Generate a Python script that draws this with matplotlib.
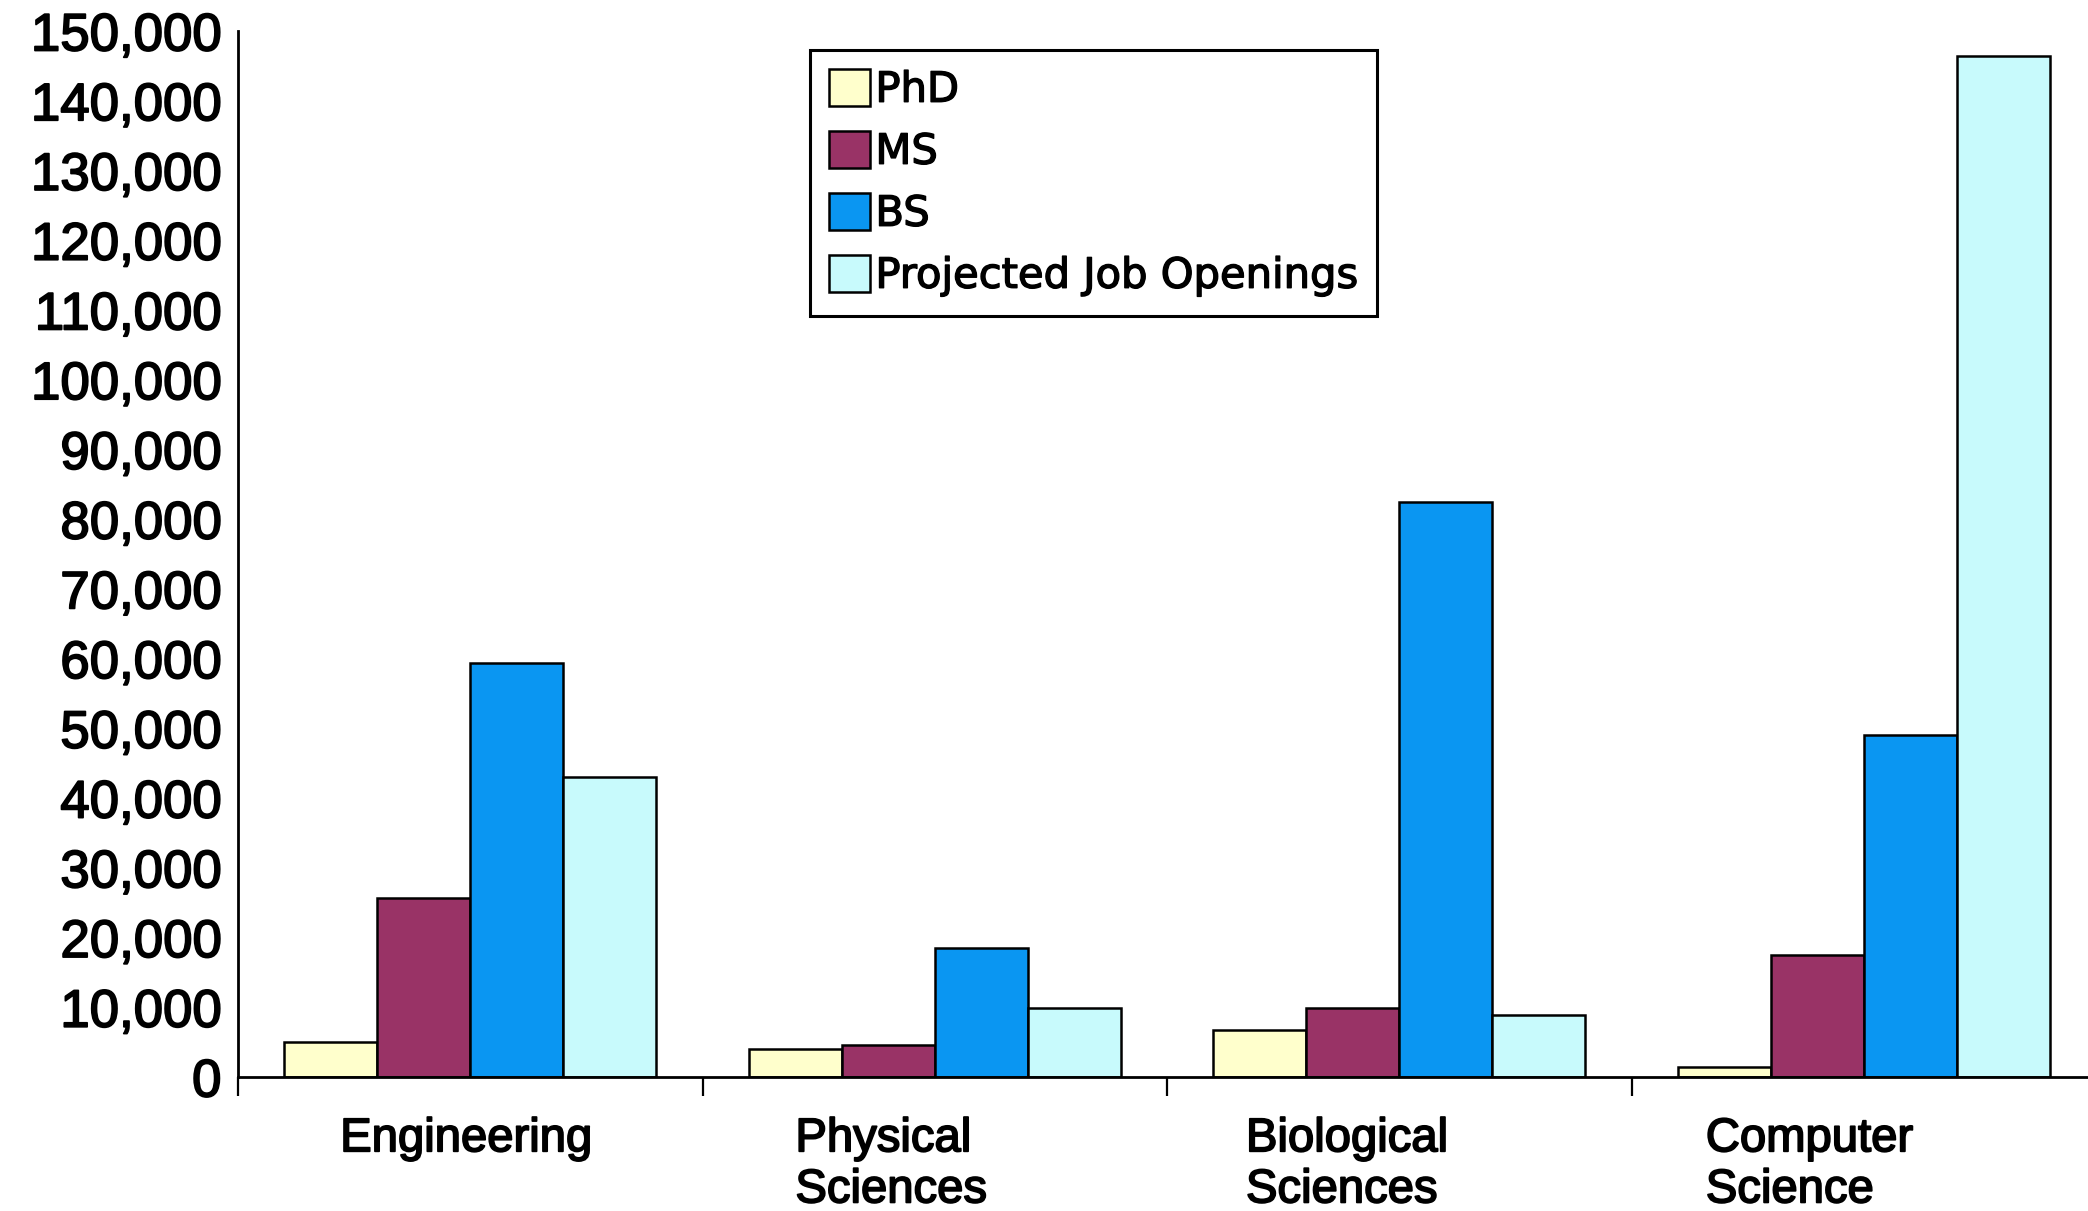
import matplotlib
matplotlib.use("Agg")
import matplotlib.pyplot as plt
import matplotlib.patheffects as pe
import numpy as np
from matplotlib.ticker import StrMethodFormatter, FixedLocator

# ---- data ----
categories = ["Engineering", "Physical\nSciences", "Biological\nSciences", "Computer\nScience"]
series_names = ["PhD", "MS", "BS", "Projected Job Openings"]
phd = [5000, 4000, 6700, 1400]
ms = [25600, 4600, 9900, 17500]
bs = [59300, 18500, 82500, 49000]
projected = [43000, 9900, 8900, 146400]
y_ticks = list(range(0, 150001, 10000))
label_offsets = [-0.28, -0.30, -0.33, -0.34]

# ---- style ----
colors = ["#FFFFCC", "#993366", "#0A96F2", "#C8FAFC"]
heavy = [pe.withStroke(linewidth=1.3, foreground="black")]

fig = plt.figure(figsize=(20.88, 12.11), dpi=100)
fig.patch.set_facecolor("white")
ax = fig.add_axes([238 / 2088, 1 - 1077 / 1211, 1858 / 2088, (1077 - 31) / 1211])
ax.set_facecolor("white")

x = np.arange(len(categories))
width = 0.2
all_series = [phd, ms, bs, projected]
handles = []
for i, (vals, name, col) in enumerate(zip(all_series, series_names, colors)):
    b = ax.bar(x + (i - 1.5) * width, vals, width, color=col, edgecolor="black",
               linewidth=1.8, label=name, zorder=3)
    handles.append(b)

ax.set_xlim(-0.5, len(categories) - 0.5)
ax.set_ylim(0, 150000)

for s in ["top", "right"]:
    ax.spines[s].set_visible(False)
for s in ["left", "bottom"]:
    ax.spines[s].set_linewidth(2.0)
    ax.spines[s].set_color("black")
ax.spines["bottom"].set_zorder(4)

ax.yaxis.set_major_locator(FixedLocator(y_ticks))
ax.yaxis.set_major_formatter(StrMethodFormatter("{x:,.0f}"))
ax.tick_params(axis="y", length=0, pad=12, labelsize=38)
for lab in ax.get_yticklabels():
    lab.set_fontfamily("Liberation Sans")
    lab.set_path_effects(heavy)

ax.set_xticks(np.arange(len(categories)) - 0.5)
ax.set_xticklabels([])
ax.tick_params(axis="x", length=14, width=1.6, direction="out")

for xi, (cat, off) in enumerate(zip(categories, label_offsets)):
    ax.annotate(cat, xy=(xi + off, 0), xycoords=("data", "data"),
                xytext=(0, -29), textcoords="offset points",
                ha="left", va="top", fontsize=34, family="Liberation Sans",
                linespacing=1.21, annotation_clip=False, path_effects=heavy)

leg = ax.legend(handles=handles, labels=series_names, loc="upper left",
                bbox_to_anchor=(810 / 2088, 1 - 50 / 1211),
                bbox_transform=fig.transFigure, borderaxespad=0,
                prop={"family": "DejaVu Sans", "size": 30},
                handlelength=1.0, handleheight=1.0, handletextpad=0.12,
                labelspacing=0.48, borderpad=0.45, fancybox=False,
                frameon=True, edgecolor="black", framealpha=1)
leg.get_frame().set_linewidth(2.2)
for t in leg.get_texts():
    t.set_path_effects([pe.withStroke(linewidth=1.0, foreground="black")])

fig.savefig("out.png", dpi=100, facecolor="white")
